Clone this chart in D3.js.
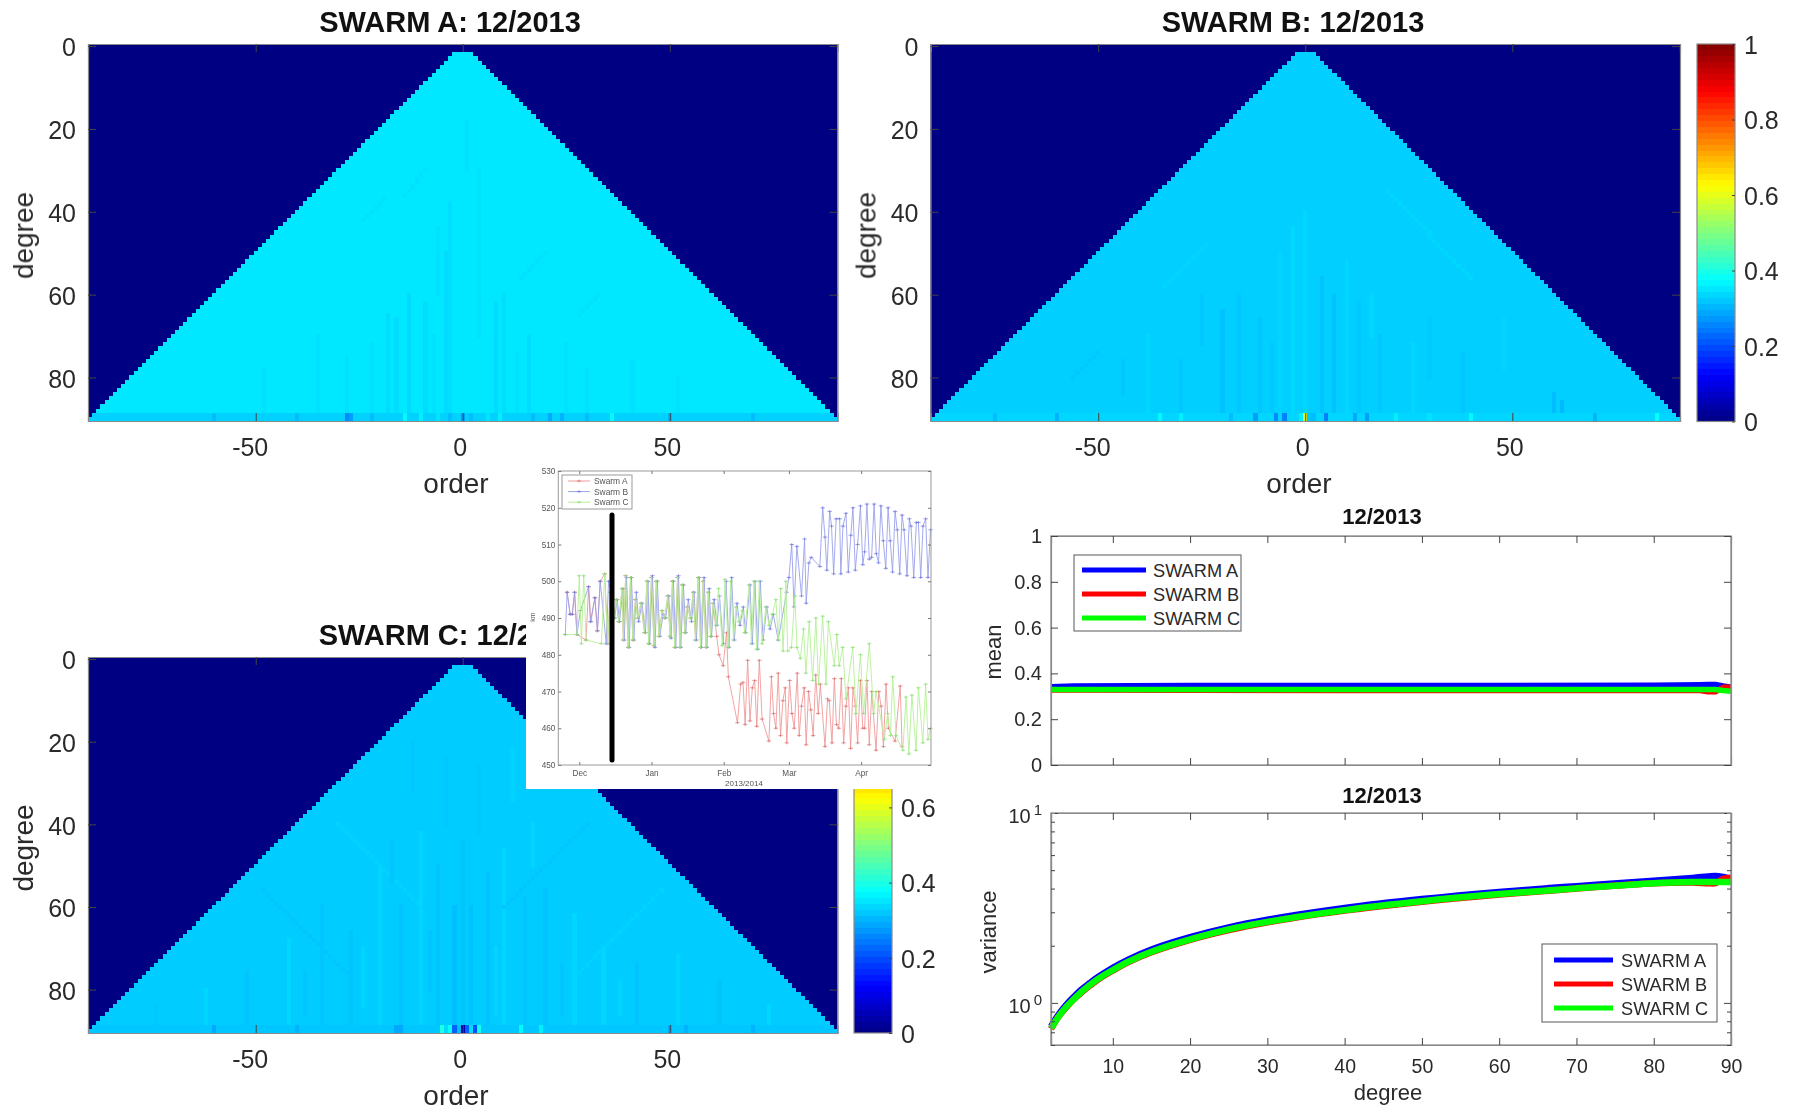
<!DOCTYPE html>
<html><head><meta charset="utf-8">
<script src="https://cdn.jsdelivr.net/npm/d3@7/dist/d3.min.js"></script>
<style>html,body{margin:0;padding:0;background:#fff;overflow:hidden}svg{display:block;font-family:"Liberation Sans",Arial,sans-serif}</style>
</head><body><svg id="c" width="1799" height="1112"></svg>
<script>
// ---------- heat-map data: baseline + streaks [order0,degree0,order1,degree1,value] + bottom rows ----------
const baseA=0.352, baseB=0.328, baseC=0.325;
const streaksA=[[1,18,1,30,.345],[-14,36,-9,30,.345],[-24,42,-19,37,.346],[-3,38,-3,88,.344],[4,30,4,70,.346],[-18,65,-18,88,.34],[-16,66,-16,88,.342],[-13,60,-13,88,.34],[-9,62,-9,88,.342],[-4,50,-4,88,.34],[8,62,8,88,.34],[10,60,10,88,.342],[16,70,16,88,.342],[25,72,25,88,.345],[-28,75,-28,88,.346],[-35,70,-35,88,.346],[33,60,28,65,.345],[20,50,14,56,.346],[-6,44,-6,60,.345],[41,76,41,88,.345],[-48,78,-48,88,.346],[52,80,52,88,.346],[-7,70,-7,88,.345],[-22,72,-22,88,.345],[13,74,13,88,.345],[30,78,30,88,.345]];
const rowsA=[[-28,.26],[-27,.28],[-14,.37],[-10,.36],[-6,.35],[-3,.31],[0,.28],[2,.31],[6,.35],[9,.36],[17,.31],[21,.29],[24,.3],[30,.31],[36,.37],[-60,.31],[-40,.31],[-22,.31],[50,.3],[70,.31]];
const defaultRowA=0.33;
const streaksB=[[-20,64,-20,88,.315],[-16,60,-16,88,.32],[-11,66,-11,88,.318],[-6,50,-6,88,.334],[-3,44,-3,88,.338],[0,40,0,88,.336],[4,56,4,88,.316],[7,60,7,88,.315],[10,52,10,88,.335],[13,62,13,88,.32],[18,70,18,88,.32],[-30,76,-30,88,.32],[-38,70,-38,88,.336],[26,72,26,88,.336],[38,74,38,88,.32],[20,35,40,56,.336],[-34,58,-24,48,.334],[-56,80,-50,74,.32],[60,84,60,88,.31],[62,86,62,88,.305],[48,66,48,78,.334],[-25,60,-25,72,.321],[-44,76,-44,84,.321],[30,66,30,80,.322],[-8,72,-8,88,.322],[16,60,16,70,.336]];
const rowsB=[[-1,.36],[0,.6],[1,.32],[2,.31],[5,.25],[-5,.25],[-7,.26],[-12,.28],[-18,.31],[-30,.36],[-35,.37],[12,.29],[15,.28],[22,.36],[30,.35],[40,.37],[-60,.3],[-75,.31],[70,.3],[85,.38]];
const defaultRowB=0.335;
const streaksC=[[-2,60,-2,88,.312],[2,60,2,88,.314],[0,44,0,88,.316],[-6,50,-6,88,.316],[6,52,6,88,.316],[-10,42,-10,88,.335],[10,46,10,88,.335],[-15,60,-15,88,.316],[15,58,15,88,.318],[-20,50,-20,88,.335],[20,56,20,88,.316],[-27,66,-27,88,.316],[27,62,27,88,.335],[-34,60,-34,88,.318],[34,70,34,88,.335],[-42,68,-42,88,.335],[42,74,42,88,.316],[-52,76,-52,88,.316],[52,72,52,88,.336],[-62,80,-62,88,.336],[62,78,62,88,.316],[-74,84,-74,88,.32],[74,84,74,88,.336],[-30,40,-10,60,.332],[30,40,10,60,.318],[-48,56,-28,76,.318],[48,56,28,76,.332],[-12,20,-12,32,.32],[12,22,12,34,.332],[-4,24,-4,40,.32],[4,26,4,42,.32],[-24,70,-24,84,.334],[-38,76,-38,86,.318],[-8,66,-8,80,.318],[8,70,8,86,.333],[24,74,24,86,.318],[38,78,38,86,.334],[-17,44,-17,54,.318],[17,40,17,50,.333]];
const rowsC=[[0,.05],[-1,.31],[1,.22],[-2,.22],[2,.34],[-3,.38],[3,.2],[-4,.34],[4,.39],[-5,.4],[-16,.29],[-15,.29],[14,.37],[19,.36],[-40,.3],[-60,.29],[50,.29],[54,.3],[70,.3]];
const defaultRowC=0.32;
const panelTitles=["SWARM A: 12/2013","SWARM B: 12/2013","SWARM C: 12/2013"];
const orderTicks=[-50,0,50], degreeTicks=[0,20,40,60,80], barTicks=[0,.2,.4,.6,.8,1], cutBarTicks=[0,.2,.4,.6];
// ---------- degree-wise statistics ----------
const meanDegrees=[2,5,20,40,60,80,86,87,88,89,90];
const meanA=[.342,.345,.347,.347,.347,.348,.35,.351,.351,.345,.34];
const meanB=[.328,.327,.326,.325,.325,.325,.325,.32,.32,.34,.34];
const meanC=[.33,.33,.33,.33,.33,.33,.33,.33,.33,.325,.322];
const varDegrees=[2,3,4,5,6,7,8,10,12,15,20,25,30,40,50,60,70,80,85,87,88,89,90];
const varA=[.75,.87,.98,1.08,1.18,1.27,1.36,1.53,1.69,1.91,2.22,2.5,2.74,3.16,3.52,3.84,4.12,4.4,4.55,4.63,4.66,4.6,4.5];
const varB=[.73,.85,.95,1.05,1.14,1.23,1.32,1.48,1.64,1.85,2.15,2.42,2.66,3.06,3.41,3.72,4.0,4.26,4.3,4.27,4.27,4.5,4.56];
const varC=[.735,.85,.955,1.05,1.15,1.24,1.33,1.49,1.65,1.86,2.16,2.44,2.67,3.08,3.43,3.74,4.01,4.27,4.33,4.33,4.33,4.33,4.33];
const legendNames=["SWARM A","SWARM B","SWARM C"];
// ---------- altitude inset (days after 1 Dec 2013, km) ----------
const redDays=[-5.2,-3.9,-3,-2,-1,2.9,4,5,6.7,7.8,9,10.9,12.2,13.3,14.8,15.9,16.9,18.4,18.9,19.9,21,22,23,24.1,25.1,26.5,28,29.1,29.8,31,32.1,33.1,34.2,35.6,36.7,38,39,40,41,42.2,43.2,44.3,45.3,46.4,47.8,48.9,49.9,51.1,52.1,53.2,54.4,55.4,56.4,57.5,59,60,61.8,63.2,64,67.9,69.3,70.3,71.2,72.3,73.3,74.3,75.3,76.2,77.3,78.5,81.4,82.5,83.4,84.4,85.4,86.4,87.4,88.4,89.1,90.3,91.3,92.3,93.6,94.4,95.4,96.6,97.4,98.4,99.4,100.4,101.5,102.6,103.5,105.5,106.6,107.3,108.5,109.5,110.4,111.4,112.5,113.5,114.5,115.5,116.5,117.5,118.5,119.5,120.7,121.7,122.5,123.5,124.5,125.6,127.4,128.6,129.6,130.6,131.7,132.7,135.6,137.8,138.6];
const redKm=[497,491,491,497,485.5,484,498.5,489,495.5,486.5,500,502,483,497,490,495,489,498,484,501.5,482,501,484,495,490,494,486,500,483,501,482.5,500,485,492,490,496,485,500,482,501,482,499,486,493,490,497,484,501,482,500,482,497,485,494,485,480,477,486,474,461.5,472,472.5,461,478.5,462,471,473,460.5,478.5,462.5,456.5,474,464,460,475,458,467.5,471,456,473,464,460,475,458,466,471,455.5,470,465,458,474.5,464,472,455,468,467.5,456,473.5,461,460,473.5,456,466,471,454.5,471,466,456,473,460,460,473,455.5,470,454,470,466,455,472,460,456.5,471.5,455];
const blueDays=[-6,-5.2,-3.9,-3,-2,-1,.5,4,4.8,6.7,7.8,9,11.6,12.6,13.7,15.2,16.3,17.3,18.8,19.3,20.3,21.4,22.4,23.4,24.5,25.5,26.9,28.4,29.5,30.2,31.4,32.5,33.5,34.6,36,37.1,38.4,39.4,40.4,41.4,42.6,43.6,44.7,45.7,46.8,48.2,49.3,50.3,51.5,52.5,53.6,54.8,55.8,56.8,57.9,59.1,60.2,61.8,63,64.3,65.4,66.6,67.7,69,70.4,71.4,73.3,74.3,75.4,76.6,77.7,78.9,80.5,81.9,83.3,85.4,89,90,91.2,92.2,93.4,95.4,96.7,97.4,98.6,99.6,103.3,104.5,105.5,106.3,107.5,108.3,109.2,110.3,111.8,112.3,113.2,114.5,115.5,116.6,117.5,118.5,119.5,120.7,121.7,122.5,123.5,124.5,125.5,126.6,127.5,128.5,129.5,130.5,131.6,132.6,133.5,134.5,135.6,136.5,137.6,138.6,139.4,140.7,141.7,142.4,143.6,144.7,145.6,146.6,147.6,148.7,149.7,150.8];
const blueKm=[485.5,497,491,491,497,485.5,492,498.5,489,495.5,486.5,500,483,500,497,490,495,489,498,484,501,482,501,484,497,489,494,486,500,483,501.5,482,500,485,491,490,496,484.5,500,482,501.5,482,499,486,495,489,497,484,501,482,501,482,498,485,495,488,496,483,500,482,501,484,494,488,493,486,499,483,500,481.5,500,484,493,487,491,484,497,501,510,493,509.5,496,511.5,494,505,506.5,504,520,512,503,519,515,502,517,517,502,515,518.5,502.5,512.5,520,503,510,520.5,504.5,508,521,506,506.5,521,507.5,505,520.5,511,503.5,520,511,502.5,519,514,502,518,514,501.5,517,515,501,516,516,501,515,517,501,514];
const greenDays=[-6,-1,0,.9,1.9,2.9,9.5,10.9,12.2,13.3,14.8,15.9,16.9,18.4,18.9,19.9,21,22,23,24.1,25.1,26.5,28,29.1,29.8,31,32.1,33.1,34.2,35.6,36.7,38,39,40,41,42.2,43.2,44.3,45.3,46.4,47.8,48.9,49.9,51.1,52.1,53.2,54.4,55.4,56.4,57.5,58.7,59.8,61.4,62.6,63.9,65,66.2,67.3,68.6,70,71,72.9,73.9,75,76.2,77.3,78.5,80.1,81.5,82.9,84.4,85.4,86.5,87.5,88.7,89.5,91.1,92.6,93.4,94.9,96.3,97.3,98.7,100.2,101.6,102.7,104.5,105.9,106.9,109.5,110.6,111.6,113.1,114.5,117.4,118.8,120.7,122.1,124.5,126.4,127.4,131,132.4,133.6,134.6,136,138.9,140.3,141.5,142.8,144.6,145.6,147.5,148.7,149.7,150.8];
const greenKm=[485.5,485.5,501.5,483,501.5,484,483,502,483,497,490,495,489,498,484,501.5,482,501,484,495,490,494,486,500,483,501,482.5,500,485,492,490,496,485,500,482,501,482,499,486,493,490,497,484,501,482,500,482,497,485,494,488,498,482.5,500.5,482,500,484,493,489,492,486,499,483,500,481.5,500,483,493,488,491,495,484,498,481,500,481,482,496,482,479,487,475,489,473,490,472,490.5,472,489,477,485.5,477,482,468,482,464,480,464,483,464,470,457,464,458,474,458,454,468.5,453,469,454,471,456,472,457,460];
const insetNames=["Swarm A","Swarm B","Swarm C"];
const kmTicks=[450,460,470,480,490,500,510,520,530];
const monthNames=["Dec","Jan","Feb","Mar","Apr"];
const monthDates=[new Date(2013,11,1),new Date(2014,0,1),new Date(2014,1,1),new Date(2014,2,1),new Date(2014,3,1)];

// ---------- helpers ----------
const jetStops=d3.scaleLinear().domain([0,.125,.375,.625,.875,1])
  .range(["rgb(0,0,130)","rgb(0,0,255)","rgb(0,255,255)","rgb(255,255,0)","rgb(255,0,0)","rgb(128,0,0)"]).clamp(true);
const svg=d3.select("#c");
const textCol="#2a2a2a", boxCol="#8a8a8a";
const main=svg.append("g").style("filter","blur(0.55px)");

function styleAxis(g,size,col){
  g.select(".domain").attr("stroke",boxCol).attr("stroke-width",1.2);
  g.selectAll(".tick line").attr("stroke",col||"#444").attr("stroke-width",1);
  g.selectAll("text").attr("fill",textCol).attr("font-size",size);
}
function heat(g,range,rangeY,base,streaks,rows,defRow,title,labelX){
  const x=d3.scaleLinear().domain([-90.5,90.5]).range(range);
  const y=d3.scaleLinear().domain([-.5,90.5]).range(rangeY);
  const grid=new Map();
  for(let n=2;n<=90;n++)for(let m=-n;m<=n;m++)grid.set(m+"_"+n,n>=89?defRow:base);
  streaks.forEach(([m0,n0,m1,n1,v])=>{
    const steps=Math.max(Math.abs(m1-m0),Math.abs(n1-n0));
    d3.range(steps+1).forEach(i=>{
      const m=Math.round(m0+(m1-m0)*i/(steps||1)),n=Math.round(n0+(n1-n0)*i/(steps||1));
      const k=m+"_"+n; if(grid.has(k))grid.set(k,v);
    });
  });
  rows.forEach(([m,v])=>{[89,90].forEach(n=>grid.set(m+"_"+n,v));});
  const cells=Array.from(grid,([k,v])=>{const [m,n]=k.split("_").map(Number);return {m,n,v};});
  g.append("rect").attr("x",range[0]).attr("y",rangeY[0]).attr("width",range[1]-range[0]).attr("height",rangeY[1]-rangeY[0]).attr("fill",jetStops(0));
  g.append("g").attr("shape-rendering","crispEdges").selectAll("rect").data(cells).join("rect")
    .attr("x",d=>x(d.m-.5)).attr("y",d=>y(d.n-.5))
    .attr("width",d=>x(d.m+.5)-x(d.m-.5)+.3).attr("height",d=>y(d.n+.5)-y(d.n-.5)+.3)
    .attr("fill",d=>jetStops(d.v));
  const fmt=d=>String(d);
  const bot=g.append("g").attr("transform",`translate(0,${rangeY[1]})`).call(d3.axisBottom(x).tickValues(orderTicks).tickFormat(fmt).tickSize(-8).tickPadding(17));
  styleAxis(bot,25); bot.selectAll("text").attr("dx",d=>d<0?-6:-3);
  const top=g.append("g").attr("transform",`translate(0,${rangeY[0]})`).call(d3.axisTop(x).tickValues(orderTicks).tickFormat("").tickSize(-8));
  styleAxis(top,25);
  const lft=g.append("g").attr("transform",`translate(${range[0]},0)`).call(d3.axisLeft(y).tickValues(degreeTicks).tickFormat(fmt).tickSize(-8).tickPadding(12));
  styleAxis(lft,25); lft.selectAll("text").attr("dy","0.39em");
  const rgt=g.append("g").attr("transform",`translate(${range[1]},0)`).call(d3.axisRight(y).tickValues(degreeTicks).tickFormat("").tickSize(-8));
  styleAxis(rgt,25);
  g.append("text").attr("x",labelX-12).attr("y",rangeY[0]-12).attr("text-anchor","middle").attr("font-weight","bold").attr("font-size",29).attr("fill","#111").text(title);
  g.append("text").attr("x",labelX-6).attr("y",rangeY[1]+72).attr("text-anchor","middle").attr("font-size",28).attr("fill",textCol).text("order");
  g.append("text").attr("transform",`translate(${range[0]-55},${(rangeY[0]+rangeY[1])/2+3}) rotate(-90)`).attr("text-anchor","middle").attr("font-size",28).attr("fill",textCol).text("degree");
}
function colorbar(g,x0,x1,rangeY,ticks){
  const y=d3.scaleLinear().domain([0,1]).range(rangeY);
  const levels=d3.range(64);
  g.append("g").attr("shape-rendering","crispEdges").selectAll("rect").data(levels).join("rect")
    .attr("x",x0).attr("width",x1-x0).attr("y",d=>y((d+1)/64)).attr("height",d=>y(d/64)-y((d+1)/64)+.4).attr("fill",d=>jetStops((d+.5)/64));
  g.append("rect").attr("x",x0).attr("y",rangeY[1]).attr("width",x1-x0).attr("height",rangeY[0]-rangeY[1]).attr("fill","none").attr("stroke",boxCol).attr("stroke-width",1.2);
  const a=g.append("g").attr("transform",`translate(${x1},0)`).call(d3.axisRight(y).tickValues(ticks).tickFormat(String).tickSize(-3).tickPadding(9));
  styleAxis(a,25); a.select(".domain").remove(); a.selectAll("text").attr("dy","0.37em");
}
heat(main.append("g"),[88,837.5],[44,421],baseA,streaksA,rowsA,defaultRowA,panelTitles[0],462);
heat(main.append("g"),[930.5,1680],[44,421],baseB,streaksB,rowsB,defaultRowB,panelTitles[1],1305);
heat(main.append("g"),[88,837.5],[657,1033],baseC,streaksC,rowsC,defaultRowC,panelTitles[2],462);
colorbar(main.append("g"),1697,1735,[421.5,44],barTicks);
colorbar(main.append("g"),854,892,[1033,657],cutBarTicks);

// ---------- mean + variance ----------
const lineCols=["#0000ff","#ff0000","#00ff00"];
const dx=d3.scaleLinear().domain([2,90]).range([1051,1731]);
const degTicks=d3.range(10,90,10);
function frame(g,yTop,yBot){
  g.append("rect").attr("x",1051).attr("y",yTop).attr("width",680).attr("height",yBot-yTop).attr("fill","none").attr("stroke",boxCol).attr("stroke-width",1.3);
}
function legend(g,x,y,w,h,tx,l0,l1,ys){
  g.append("rect").attr("x",x).attr("y",y).attr("width",w).attr("height",h).attr("fill","#fff").attr("stroke","#666").attr("stroke-width",1.1);
  legendNames.forEach((n,i)=>{
    g.append("line").attr("x1",l0).attr("x2",l1).attr("y1",ys[i]).attr("y2",ys[i]).attr("stroke",lineCols[i]).attr("stroke-width",5);
    g.append("text").attr("x",tx).attr("y",ys[i]+6.5).attr("font-size",18.2).attr("fill",textCol).text(n);
  });
}
// mean panel
const gm=main.append("g");
const ym=d3.scaleLinear().domain([0,1]).range([765,536]);
[[meanA,0],[meanB,1],[meanC,2]].forEach(([v,i])=>{
  gm.append("path").datum(meanDegrees.map((d,j)=>[d,v[j]])).attr("fill","none").attr("stroke",lineCols[i]).attr("stroke-width",5.5)
    .attr("d",d3.line().x(d=>dx(d[0])).y(d=>ym(d[1])));
});
frame(gm,536,765);
styleAxis(gm.append("g").attr("transform","translate(0,765)").call(d3.axisBottom(dx).tickValues(degTicks).tickFormat("").tickSize(-7)),19);
styleAxis(gm.append("g").attr("transform","translate(0,536)").call(d3.axisTop(dx).tickValues(degTicks).tickFormat("").tickSize(-7)),19);
styleAxis(gm.append("g").attr("transform","translate(1051,0)").call(d3.axisLeft(ym).tickValues(barTicks).tickFormat(String).tickSize(-7).tickPadding(9)),20);
styleAxis(gm.append("g").attr("transform","translate(1731,0)").call(d3.axisRight(ym).tickValues(barTicks).tickFormat("").tickSize(-7)),20);
gm.append("text").attr("x",1382).attr("y",524).attr("text-anchor","middle").attr("font-weight","bold").attr("font-size",22).attr("fill","#111").text("12/2013");
gm.append("text").attr("transform","translate(1001,652) rotate(-90)").attr("text-anchor","middle").attr("font-size",22).attr("fill",textCol).text("mean");
legend(gm,1074,555,167,76,1153,1082,1146,[570,594,618]);
// variance panel
const gv=main.append("g");
const yv=d3.scaleLog().domain([.6,10]).range([1045,813]);
[[varA,0],[varB,1],[varC,2]].forEach(([v,i])=>{
  gv.append("path").datum(varDegrees.map((d,j)=>[d,v[j]])).attr("fill","none").attr("stroke",lineCols[i]).attr("stroke-width",6.5)
    .attr("d",d3.line().curve(d3.curveCatmullRom).x(d=>dx(d[0])).y(d=>yv(d[1])));
});
frame(gv,813,1045);
const minor=[.6,.7,.8,.9,2,3,4,5,6,7,8,9], major=[1,10];
styleAxis(gv.append("g").attr("transform","translate(0,1045)").call(d3.axisBottom(dx).tickValues(degTicks.concat([90])).tickFormat(String).tickSize(-7).tickPadding(14)),19.5);
styleAxis(gv.append("g").attr("transform","translate(0,813)").call(d3.axisTop(dx).tickValues(degTicks).tickFormat("").tickSize(-7)),19);
styleAxis(gv.append("g").attr("transform","translate(1051,0)").call(d3.axisLeft(yv).tickValues(major).tickFormat("").tickSize(-7)),19);
styleAxis(gv.append("g").attr("transform","translate(1051,0)").call(d3.axisLeft(yv).tickValues(minor).tickFormat("").tickSize(-4)),19);
styleAxis(gv.append("g").attr("transform","translate(1731,0)").call(d3.axisRight(yv).tickValues(major).tickFormat("").tickSize(-7)),19);
styleAxis(gv.append("g").attr("transform","translate(1731,0)").call(d3.axisRight(yv).tickValues(minor).tickFormat("").tickSize(-4)),19);
gv.selectAll("text.tl").data(major).join("text").attr("class","tl")
  .attr("x",1042).attr("y",d=>yv(d)+10).attr("text-anchor","end").attr("fill",textCol).attr("font-size",20)
  .each(function(d){
    const t=d3.select(this);
    t.append("tspan").text("10");
    t.append("tspan").attr("dx",3).attr("dy",-8).attr("font-size",15).text(Math.round(Math.log10(d)));
  });
gv.append("text").attr("x",1382).attr("y",803).attr("text-anchor","middle").attr("font-weight","bold").attr("font-size",22).attr("fill","#111").text("12/2013");
gv.append("text").attr("transform","translate(996,932) rotate(-90)").attr("text-anchor","middle").attr("font-size",22).attr("fill",textCol).text("variance");
gv.append("text").attr("x",1388).attr("y",1100).attr("text-anchor","middle").attr("font-size",22).attr("fill",textCol).text("degree");
legend(gv,1542,944,175,78,1621,1554,1613,[960,984,1008]);

// ---------- inset ----------
const ins=svg.append("g").style("filter","blur(0.45px)");
ins.append("rect").attr("x",526).attr("y",465).attr("width",406).attr("height",324).attr("fill","#fff");
const day0=new Date(2013,11,1);
const toDate=d=>d3.timeHour.offset(day0,Math.round(d*24));
const tx=d3.scaleTime().domain([new Date(2013,10,22),new Date(2014,4,1)]).range([558.3,931]);
const ty=d3.scaleLinear().domain([450,530]).range([765,471]);
const insetCols=["#f09a9a","#9aa0ec","#b4f096"], markCols=["#dc7070","#7078dc","#8edc78"];
[[redDays,redKm,0],[blueDays,blueKm,1],[greenDays,greenKm,2]].forEach(([ds,ks,i])=>{
  const pts=ds.map((d,j)=>[toDate(d),ks[j]]);
  ins.append("path").datum(pts).attr("fill","none").attr("stroke",insetCols[i]).attr("stroke-width",.9)
    .attr("d",d3.line().x(d=>tx(d[0])).y(d=>ty(d[1])));
  ins.append("g").selectAll("path").data(pts).join("path")
    .attr("transform",d=>`translate(${tx(d[0])},${ty(d[1])})`)
    .attr("d","M-2.2,0H2.2M0,-1.4V1.4").attr("stroke",markCols[i]).attr("stroke-width",.7).attr("fill","none");
});
ins.append("rect").attr("x",558.3).attr("y",471).attr("width",372.7).attr("height",294).attr("fill","none").attr("stroke","#9a9a9a").attr("stroke-width",1);
function styleInset(a){a.select(".domain").remove();a.selectAll(".tick line").attr("stroke","#777");a.selectAll("text").attr("fill","#555").attr("font-size",8.2);}
styleInset(ins.append("g").attr("transform","translate(0,765)").call(d3.axisBottom(tx).tickValues(monthDates).tickFormat((d,i)=>monthNames[i]).tickSize(-3).tickPadding(5)));
styleInset(ins.append("g").attr("transform","translate(0,471)").call(d3.axisTop(tx).tickValues(monthDates).tickFormat("").tickSize(-3)));
styleInset(ins.append("g").attr("transform","translate(558.3,0)").call(d3.axisLeft(ty).tickValues(kmTicks).tickFormat(String).tickSize(-3).tickPadding(3)));
styleInset(ins.append("g").attr("transform","translate(931,0)").call(d3.axisRight(ty).tickValues(kmTicks).tickFormat("").tickSize(-3)));
ins.append("text").attr("x",744).attr("y",786).attr("text-anchor","middle").attr("font-size",8).attr("fill","#555").text("2013/2014");
ins.append("text").attr("transform","translate(535,617) rotate(-90)").attr("text-anchor","middle").attr("font-size",7).attr("fill","#555").text("km");
ins.append("rect").attr("x",562).attr("y",475).attr("width",70).attr("height",34).attr("fill","#fff").attr("stroke","#999").attr("stroke-width",1);
insetNames.forEach((n,i)=>{
  const yy=481+i*10.6;
  ins.append("line").attr("x1",568).attr("x2",590).attr("y1",yy).attr("y2",yy).attr("stroke",insetCols[i]).attr("stroke-width",1);
  ins.append("path").attr("transform",`translate(579,${yy})`).attr("d","M-2.2,0H2.2M0,-1.4V1.4").attr("stroke",markCols[i]).attr("stroke-width",.7);
  ins.append("text").attr("x",594).attr("y",yy+3).attr("font-size",8.4).attr("fill","#555").text(n);
});
ins.append("line").attr("x1",612).attr("x2",612).attr("y1",515).attr("y2",760).attr("stroke","#000").attr("stroke-width",5).attr("stroke-linecap","round");
</script></body></html>
